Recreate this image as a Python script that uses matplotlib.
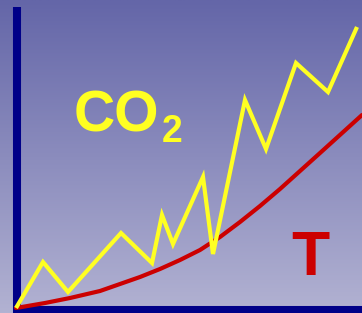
import numpy as np
import matplotlib
matplotlib.use("Agg")
import matplotlib.pyplot as plt
from matplotlib.colors import LinearSegmentedColormap

# CO2 concentration (jagged rise), arbitrary units, origin at the axis corner
co2_x = [0, 27, 52, 105, 136, 146, 157, 187, 197, 229, 250, 280, 312, 341]
co2_y = [0, 46, 16, 75, 45, 93, 64, 131, 54, 208, 159, 245, 216, 281]

# temperature (smooth rise)
temp_x = [0, 29, 54, 84, 104, 124, 144, 164, 184, 204, 224, 244, 264, 284, 304, 325, 346]
temp_y = [0, 5, 10, 17, 24, 31, 39, 48, 58, 71, 86, 102, 119, 137, 155, 174, 193]

fig = plt.figure(figsize=(3.62, 3.13), dpi=100)
ax = fig.add_axes([0, 0, 1, 1])
ax.set_xlim(-16, 346)
ax.set_ylim(-5, 308)
ax.axis("off")

# background gradient, darker blue at the top
cmap = LinearSegmentedColormap.from_list("bg", ["#b2b2d2", "#6466a8"])
grad = np.linspace(0, 1, 256).reshape(-1, 1)
ax.imshow(grad, cmap=cmap, aspect="auto", origin="lower",
          extent=[-16, 346, -5, 308], zorder=0)

# axes lines
ax.plot([1, 1, 360], [301, -2, -2], color="#000088", lw=5.8,
        solid_capstyle="butt", solid_joinstyle="miter", zorder=2)

ax.plot(temp_x, temp_y, color="#cc0000", lw=3.0, zorder=3,
        solid_capstyle="round", solid_joinstyle="round")
ax.plot(co2_x, co2_y, color="#ffff22", lw=3.0, zorder=4,
        solid_joinstyle="miter", solid_capstyle="butt")

ax.text(58, 176, "CO", color="#ffff22", fontsize=41, fontweight="bold",
        family="Liberation Sans", ha="left", va="baseline", zorder=5)
ax.text(146, 166, "2", color="#ffff22", fontsize=27, fontweight="bold",
        family="Liberation Sans", ha="left", va="baseline", zorder=5)
ax.text(275, 33, "T", color="#cc0000", fontsize=45, fontweight="bold",
        family="Liberation Sans", ha="left", va="baseline", zorder=5)

fig.savefig("out.png", dpi=100)
